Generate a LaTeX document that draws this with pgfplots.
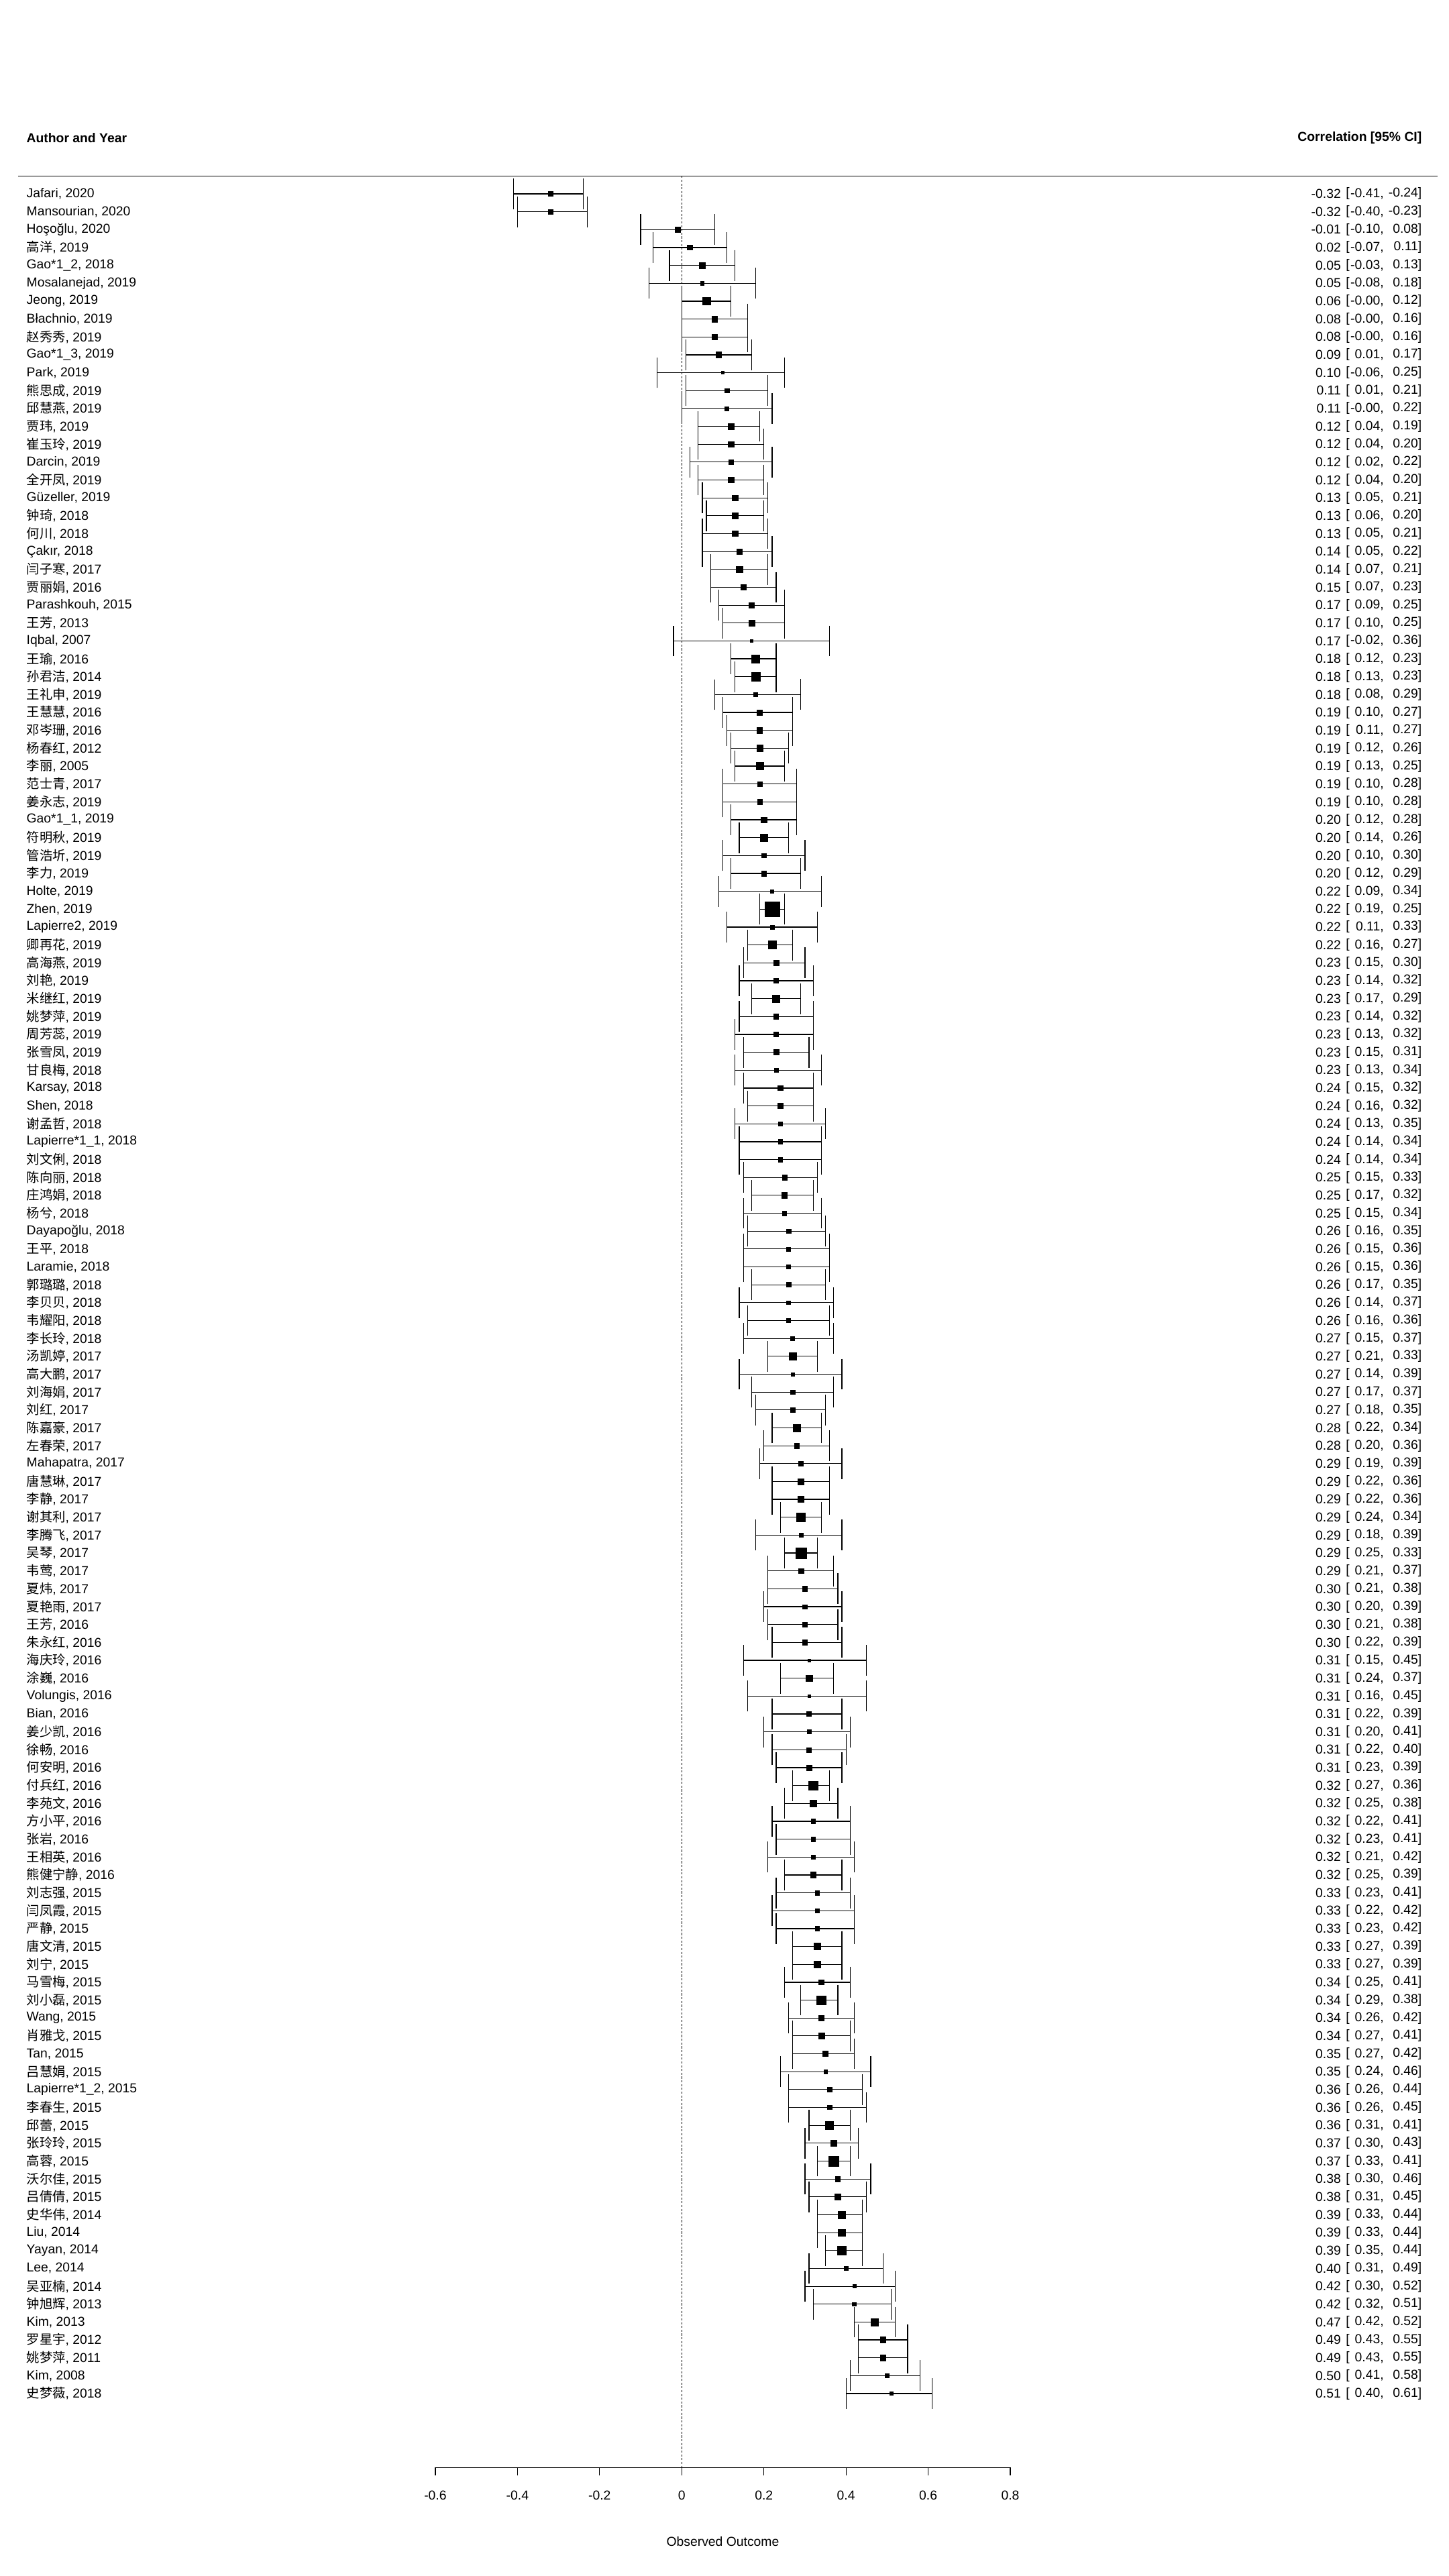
\documentclass[border=0pt]{standalone}
\usepackage{pgfplots}
\pgfplotsset{compat=1.18}
\usepackage{pgfplotstable}
\usepackage{fontspec}
\setmainfont{Liberation Sans}
\newfontfamily\cjk{Noto Sans CJK SC}
\XeTeXinterchartokenstate=1
\newXeTeXintercharclass\CJKcls
\newcount\cjkc
\cjkc="4E00
\loop
 \XeTeXcharclass\cjkc=\CJKcls
 \ifnum\cjkc<"9FFF \advance\cjkc by 1
\repeat
\XeTeXinterchartoks 0 \CJKcls = {\begingroup\cjk}
\XeTeXinterchartoks 4095 \CJKcls = {\begingroup\cjk}
\XeTeXinterchartoks \CJKcls 0 = {\endgroup}
\XeTeXinterchartoks \CJKcls 4095 = {\endgroup}
\begin{document}
\pgfplotstableread[col sep=semicolon]{
row;est;lo;hi;name
1;-0.32;-0.41;-0.24;Jafari, 2020
2;-0.32;-0.40;-0.23;Mansourian, 2020
3;-0.01;-0.10;0.08;Hoşoğlu, 2020
4;0.02;-0.07;0.11;高洋, 2019
5;0.05;-0.03;0.13;Gao*1\_2, 2018
6;0.05;-0.08;0.18;Mosalanejad, 2019
7;0.06;-0.00;0.12;Jeong, 2019
8;0.08;-0.00;0.16;Błachnio, 2019
9;0.08;-0.00;0.16;赵秀秀, 2019
10;0.09;0.01;0.17;Gao*1\_3, 2019
11;0.10;-0.06;0.25;Park, 2019
12;0.11;0.01;0.21;熊思成, 2019
13;0.11;-0.00;0.22;邱慧燕, 2019
14;0.12;0.04;0.19;贾玮, 2019
15;0.12;0.04;0.20;崔玉玲, 2019
16;0.12;0.02;0.22;Darcin, 2019
17;0.12;0.04;0.20;全开凤, 2019
18;0.13;0.05;0.21;Güzeller, 2019
19;0.13;0.06;0.20;钟琦, 2018
20;0.13;0.05;0.21;何川, 2018
21;0.14;0.05;0.22;Çakır, 2018
22;0.14;0.07;0.21;闫子寒, 2017
23;0.15;0.07;0.23;贾丽娟, 2016
24;0.17;0.09;0.25;Parashkouh, 2015
25;0.17;0.10;0.25;王芳, 2013
26;0.17;-0.02;0.36;Iqbal, 2007
27;0.18;0.12;0.23;王瑜, 2016
28;0.18;0.13;0.23;孙君洁, 2014
29;0.18;0.08;0.29;王礼申, 2019
30;0.19;0.10;0.27;王慧慧, 2016
31;0.19;0.11;0.27;邓岑珊, 2016
32;0.19;0.12;0.26;杨春红, 2012
33;0.19;0.13;0.25;李丽, 2005
34;0.19;0.10;0.28;范士青, 2017
35;0.19;0.10;0.28;姜永志, 2019
36;0.20;0.12;0.28;Gao*1\_1, 2019
37;0.20;0.14;0.26;符明秋, 2019
38;0.20;0.10;0.30;管浩圻, 2019
39;0.20;0.12;0.29;李力, 2019
40;0.22;0.09;0.34;Holte, 2019
41;0.22;0.19;0.25;Zhen, 2019
42;0.22;0.11;0.33;Lapierre2, 2019
43;0.22;0.16;0.27;卿再花, 2019
44;0.23;0.15;0.30;高海燕, 2019
45;0.23;0.14;0.32;刘艳, 2019
46;0.23;0.17;0.29;米继红, 2019
47;0.23;0.14;0.32;姚梦萍, 2019
48;0.23;0.13;0.32;周芳蕊, 2019
49;0.23;0.15;0.31;张雪凤, 2019
50;0.23;0.13;0.34;甘良梅, 2018
51;0.24;0.15;0.32;Karsay, 2018
52;0.24;0.16;0.32;Shen, 2018
53;0.24;0.13;0.35;谢孟哲, 2018
54;0.24;0.14;0.34;Lapierre*1\_1, 2018
55;0.24;0.14;0.34;刘文俐, 2018
56;0.25;0.15;0.33;陈向丽, 2018
57;0.25;0.17;0.32;庄鸿娟, 2018
58;0.25;0.15;0.34;杨兮, 2018
59;0.26;0.16;0.35;Dayapoğlu, 2018
60;0.26;0.15;0.36;王平, 2018
61;0.26;0.15;0.36;Laramie, 2018
62;0.26;0.17;0.35;郭璐璐, 2018
63;0.26;0.14;0.37;李贝贝, 2018
64;0.26;0.16;0.36;韦耀阳, 2018
65;0.27;0.15;0.37;李长玲, 2018
66;0.27;0.21;0.33;汤凯婷, 2017
67;0.27;0.14;0.39;高大鹏, 2017
68;0.27;0.17;0.37;刘海娟, 2017
69;0.27;0.18;0.35;刘红, 2017
70;0.28;0.22;0.34;陈嘉豪, 2017
71;0.28;0.20;0.36;左春荣, 2017
72;0.29;0.19;0.39;Mahapatra, 2017
73;0.29;0.22;0.36;唐慧琳, 2017
74;0.29;0.22;0.36;李静, 2017
75;0.29;0.24;0.34;谢其利, 2017
76;0.29;0.18;0.39;李腾飞, 2017
77;0.29;0.25;0.33;吴琴, 2017
78;0.29;0.21;0.37;韦莺, 2017
79;0.30;0.21;0.38;夏炜, 2017
80;0.30;0.20;0.39;夏艳雨, 2017
81;0.30;0.21;0.38;王芳, 2016
82;0.30;0.22;0.39;朱永红, 2016
83;0.31;0.15;0.45;海庆玲, 2016
84;0.31;0.24;0.37;涂巍, 2016
85;0.31;0.16;0.45;Volungis, 2016
86;0.31;0.22;0.39;Bian, 2016
87;0.31;0.20;0.41;姜少凯, 2016
88;0.31;0.22;0.40;徐畅, 2016
89;0.31;0.23;0.39;何安明, 2016
90;0.32;0.27;0.36;付兵红, 2016
91;0.32;0.25;0.38;李苑文, 2016
92;0.32;0.22;0.41;方小平, 2016
93;0.32;0.23;0.41;张岩, 2016
94;0.32;0.21;0.42;王相英, 2016
95;0.32;0.25;0.39;熊健宁静, 2016
96;0.33;0.23;0.41;刘志强, 2015
97;0.33;0.22;0.42;闫凤霞, 2015
98;0.33;0.23;0.42;严静, 2015
99;0.33;0.27;0.39;唐文清, 2015
100;0.33;0.27;0.39;刘宁, 2015
101;0.34;0.25;0.41;马雪梅, 2015
102;0.34;0.29;0.38;刘小磊, 2015
103;0.34;0.26;0.42;Wang, 2015
104;0.34;0.27;0.41;肖雅戈, 2015
105;0.35;0.27;0.42;Tan, 2015
106;0.35;0.24;0.46;吕慧娟, 2015
107;0.36;0.26;0.44;Lapierre*1\_2, 2015
108;0.36;0.26;0.45;李春生, 2015
109;0.36;0.31;0.41;邱蕾, 2015
110;0.37;0.30;0.43;张玲玲, 2015
111;0.37;0.33;0.41;高蓉, 2015
112;0.38;0.30;0.46;沃尔佳, 2015
113;0.38;0.31;0.45;吕倩倩, 2015
114;0.39;0.33;0.44;史华伟, 2014
115;0.39;0.33;0.44;Liu, 2014
116;0.39;0.35;0.44;Yayan, 2014
117;0.40;0.31;0.49;Lee, 2014
118;0.42;0.30;0.52;吴亚楠, 2014
119;0.42;0.32;0.51;钟旭辉, 2013
120;0.47;0.42;0.52;Kim, 2013
121;0.49;0.43;0.55;罗星宇, 2012
122;0.49;0.43;0.55;姚梦萍, 2011
123;0.50;0.41;0.58;Kim, 2008
124;0.51;0.40;0.61;史梦薇, 2018
}\data
\begin{tikzpicture}[font=\fontsize{7.9}{9.5}\selectfont]
\begin{axis}[
 scale only axis, width=350pt, height=1502pt,
 xmin=-0.6, xmax=0.8, ymin=-128.13, ymax=9.84,
 axis x line*=bottom, axis y line=none,
 clip=false,
 xtick={-0.6,-0.4,-0.2,0,0.2,0.4,0.6,0.8},
 xticklabels={-0.6,-0.4,-0.2,0,0.2,0.4,0.6,0.8},
 tick align=outside, major tick length=5pt,
 x axis line style={line width=0.5pt, black},
 xtick style={line width=0.5pt, black},
 xticklabel style={font=\fontsize{7.9}{9.5}\selectfont, yshift=-5.5pt},
 xlabel={Observed Outcome},
 xlabel style={at={(axis description cs:0.5,0)}, anchor=center, yshift=-45pt, font=\fontsize{7.9}{9.5}\selectfont},
 every node near coord/.append style={inner sep=0pt, font=\fontsize{7.9}{9.5}\selectfont, black},
]
% reference line and header rule
\draw[line width=0.4pt, dash pattern=on 1.3pt off 1pt] (axis cs:0,0) -- (axis cs:0,-128.13);
\draw[line width=0.5pt] (axis cs:-1.616,0) -- (axis cs:1.84,0);
\node[anchor=west, inner sep=0pt, font=\bfseries\fontsize{7.9}{9.5}\selectfont] at (axis cs:-1.596,2.12) {Author and Year};
\node[anchor=east, inner sep=0pt, font=\bfseries\fontsize{7.9}{9.5}\selectfont] at (axis cs:1.8025,2.12) {Correlation [95\% CI]};
% confidence intervals and point estimates
\addplot[only marks, mark=square*, black, line width=0.2pt,
 scatter, scatter/use mapped color={draw=black, fill=black},
 visualization depends on={0.7+3.8*(((1-(\thisrow{est})*(\thisrow{est}))/((\thisrow{hi})-(\thisrow{lo})) - 2.555)/13.305) \as \psz},
 scatter/@pre marker code/.append style={/tikz/mark size=\psz pt},
 error bars/.cd, x dir=both, x explicit,
 error bar style={line width=0.5pt, black},
 error mark options={line width=0.5pt, black, mark size=9.36pt, rotate=90}]
 table[x=est, y expr=-\thisrow{row},
 x error plus expr=(\thisrow{hi})-(\thisrow{est}),
 x error minus expr=(\thisrow{est})-(\thisrow{lo})] {\data};
% study labels
\addplot[only marks, mark=none, point meta=explicit symbolic, nodes near coords,
 every node near coord/.append style={anchor=west}]
 table[x expr=-1.596, y expr=-\thisrow{row}, meta=name] {\data};
% estimates and confidence limits
\addplot[only marks, mark=none, point meta=explicit symbolic, nodes near coords,
 every node near coord/.append style={anchor=east}]
 table[x expr=1.6056, y expr=-\thisrow{row}, meta=est] {\data};
\addplot[only marks, mark=none, point meta=explicit symbolic, nodes near coords={[},
 every node near coord/.append style={anchor=west}]
 table[x expr=1.6164, y expr=-\thisrow{row}, meta=row] {\data};
\addplot[only marks, mark=none, point meta=explicit symbolic, nodes near coords={\pgfplotspointmeta,},
 every node near coord/.append style={anchor=east}]
 table[x expr=1.71, y expr=-\thisrow{row}, meta=lo] {\data};
\addplot[only marks, mark=none, point meta=explicit symbolic, nodes near coords={\pgfplotspointmeta]},
 every node near coord/.append style={anchor=east}]
 table[x expr=1.8025, y expr=-\thisrow{row}, meta=hi] {\data};
\coordinate (bbA) at (axis cs:-1.66,9.84);
\coordinate (bbB) at (axis cs:1.868,-134.2);
\end{axis}
\pgfresetboundingbox
\path (bbA) rectangle (bbB);
\end{tikzpicture}
\end{document}
